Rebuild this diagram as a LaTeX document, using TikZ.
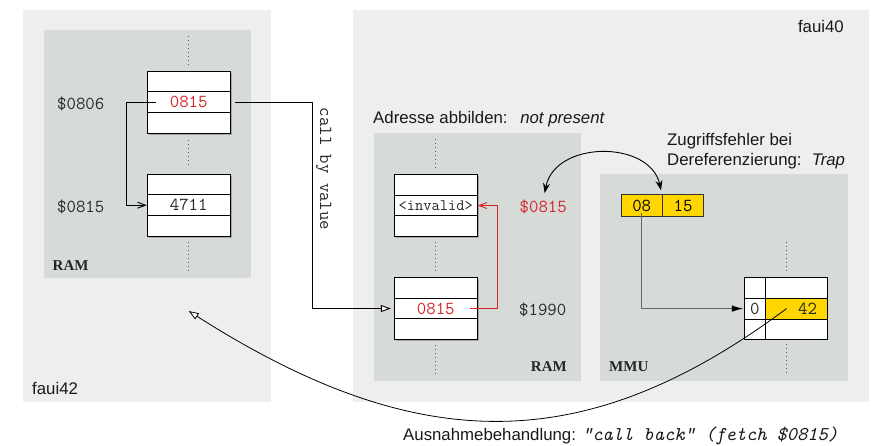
\documentclass[tikz,border=0pt]{standalone}
\usepackage{fontspec}
\setmainfont{Liberation Sans}
\newfontfamily\unitfont{Liberation Serif}
\usetikzlibrary{arrows.meta}

\definecolor{hostbg}{RGB}{238,238,238}
\definecolor{unitbg}{RGB}{214,219,216}
\definecolor{memred}{RGB}{214,36,40}
\definecolor{pagegold}{RGB}{255,214,0}
\definecolor{labelgray}{RGB}{40,40,40}
\definecolor{dotgray}{RGB}{90,90,90}

\newcommand{\monosize}{\fontsize{18.3}{20}\selectfont\ttfamily}

\tikzset{
  host/.style={fill=hostbg, draw=none},
  unit/.style={fill=unitbg, draw=none},
  cell/.style={draw=black, line width=0.9pt, fill=white, rectangle,
    minimum width=83pt, minimum height=20.8pt, inner sep=0pt,
    font=\monosize, text=labelgray},
  boxshadow/.style={draw=none, fill=gray!70},
  pcell/.style={draw=black!80, line width=0.9pt, fill=pagegold, rectangle,
    minimum width=41.5pt, minimum height=21.6pt, inner sep=0pt,
    font=\monosize},
  tcell/.style={draw=black, line width=0.9pt, fill=white, rectangle,
    minimum height=20.7pt, inner sep=0pt,
    font=\monosize, text=labelgray},
  addr/.style={font=\monosize, text=labelgray, inner sep=0pt},
  unitname/.style={font=\fontsize{15}{16}\selectfont\unitfont\bfseries, text=black!85, inner sep=0pt},
  caption/.style={font=\fontsize{16.8}{20}\selectfont, text=black!90, inner sep=0pt},
  gap/.style={draw=dotgray, line width=1pt, dash pattern=on 1pt off 3pt},
  barb/.style={-{Straight Barb[length=8pt,width=6pt]}, line width=0.9pt},
  hollow/.style={-{Triangle[open,length=10pt,width=7pt,fill=white]}, line width=0.9pt},
}

\begin{document}
\begin{tikzpicture}[x=1pt, y=-1pt]
\useasboundingbox (0,0) rectangle (874,445);

% hosts
\fill[host] (23,10) rectangle (271,402);
\fill[host] (353,10) rectangle (869,402);
% memory units
\fill[unit] (44,30) rectangle (251,278);
\fill[unit] (374,133) rectangle (581,381);
\fill[unit] (600,174) rectangle (848,381);

% host names and captions
\node[caption, anchor=west] (h42) at (32,388) {faui42};
\node[caption, anchor=east] (h40) at (844,26) {faui40};
\node[caption, anchor=west] (capmap) at (373,119.5) {Adresse abbilden:\hspace{0.75em}\itshape not present};
\node[caption, anchor=west, align=left] (captrap) at (667,151)
  {Zugriffsfehler bei\\Dereferenzierung:\hspace{0.6em}\itshape Trap};

% unit names
\node[unitname, anchor=west] (ramA) at (52.5,265.5) {RAM};
\node[unitname, anchor=east] (ramB) at (567,366.5) {RAM};
\node[unitname, anchor=west] (mmu) at (609,366.5) {MMU};

% ---- RAM of faui42 ----
\fill[boxshadow] (149,72.5) rectangle (231.7,134.8);
\fill[boxshadow] (149,175.5) rectangle (231.7,237.6);
\node[cell] (m1a) at (188.7,81.4) {};
\node[cell] (m1b) at (188.7,102.2) {\textcolor{memred}{0815}};
\node[cell] (m1c) at (188.7,123.0) {};
\node[cell] (m2a) at (188.7,184.4) {};
\node[cell] (m2b) at (188.7,205.2) {4711};
\node[cell] (m2c) at (188.7,226.0) {};
\draw[gap] (188.7,36) -- (188.7,65);
\draw[gap] (188.7,140) -- (188.7,168);
\draw[gap] (188.7,242) -- (188.7,271);
\node[addr, anchor=west] (a0806) at (57,104) {\$0806};
\node[addr, anchor=west] (a0815) at (57,206.5) {\$0815};

% ---- RAM of faui40 ----
\fill[boxshadow] (396,175.8) rectangle (478.8,237.6);
\fill[boxshadow] (396,278.8) rectangle (478.8,340.8);
\node[cell] (m3a) at (435.8,184.7) {};
\node[cell, font=\fontsize{16}{18}\selectfont\ttfamily] (m3b) at (435.8,205.5) {<invalid>};
\node[cell] (m3c) at (435.8,226.3) {};
\node[cell] (m4a) at (435.8,287.7) {};
\node[cell] (m4b) at (435.8,308.5) {\textcolor{memred}{0815}};
\node[cell] (m4c) at (435.8,329.3) {};
\draw[gap] (435.8,139) -- (435.8,168);
\draw[gap] (435.8,242) -- (435.8,271);
\draw[gap] (435.8,345) -- (435.8,374);
\node[addr, anchor=west, text=memred] (b0815) at (519.5,207.3) {\$0815};
\node[addr, anchor=west] (b1990) at (519,310) {\$1990};

% ---- MMU ----
\node[pcell] (pg) at (641.7,205.5) {08};
\node[pcell] (po) at (683.1,205.5) {15};
\node[tcell, minimum width=21pt] (t0a) at (754.8,287.8) {};
\node[tcell, minimum width=21pt] (t0b) at (754.8,308.6) {0};
\node[tcell, minimum width=21pt] (t0c) at (754.8,329.3) {};
\node[tcell, minimum width=62.4pt] (t1a) at (796.5,287.8) {};
\node[tcell, minimum width=62.4pt, fill=pagegold, text=black!85] (t1b) at (796.5,308.6) {\hspace*{22pt}42};
\node[tcell, minimum width=62.4pt] (t1c) at (796.5,329.3) {};
\draw[gap] (786,242) -- (786,271);
\draw[gap] (786,344) -- (786,373);

% ---- connectors ----
% pointer inside faui42
\coordinate (pstart) at ([xshift=9pt]m1b.west);
\draw[barb] (pstart) -- (126.7,102.2) |- (m2b.west);

% call by value
\draw[hollow, shorten >=3pt] ([xshift=4.5pt]m1b.east) -- (312.3,102.2) |- (m4b.west);
\node[addr, rotate=-90] (cbv) at (323.5,169) {call by value};

% mapping of the value onto an invalid entry
\draw[barb, draw=memred] ([xshift=-8pt]m4b.east) -- (497.7,308.5) |- (m3b.east);

% address is handed to the MMU
\draw[{Stealth[length=10pt,width=7pt]}-{Stealth[length=10pt,width=7pt]}, line width=0.9pt,
      shorten <=7pt, shorten >=4pt]
  (b0815.north) .. controls (555,140) and (650,140) .. (po.north west);

% page table lookup
\draw[-{Latex[length=12pt,width=6.5pt,black]}, draw=black!60, line width=1.5pt]
  ([yshift=4pt]pg.south) |- (t0b.west);

% exception handling back to faui42
\coordinate (cbk) at (188.7,311);
\coordinate (cbs) at ([xshift=-10pt]t1b.center);
\draw[hollow, line width=0.8pt]
  (cbs) .. controls (586,457.7) and (419,457.7) .. (cbk);
\node[caption, anchor=west] (exh) at (403,436)
  {Ausnahmebehandlung: {\fontsize{19.5}{20}\selectfont\ttfamily\itshape "call back" (fetch \$0815)}};
\end{tikzpicture}
\end{document}
